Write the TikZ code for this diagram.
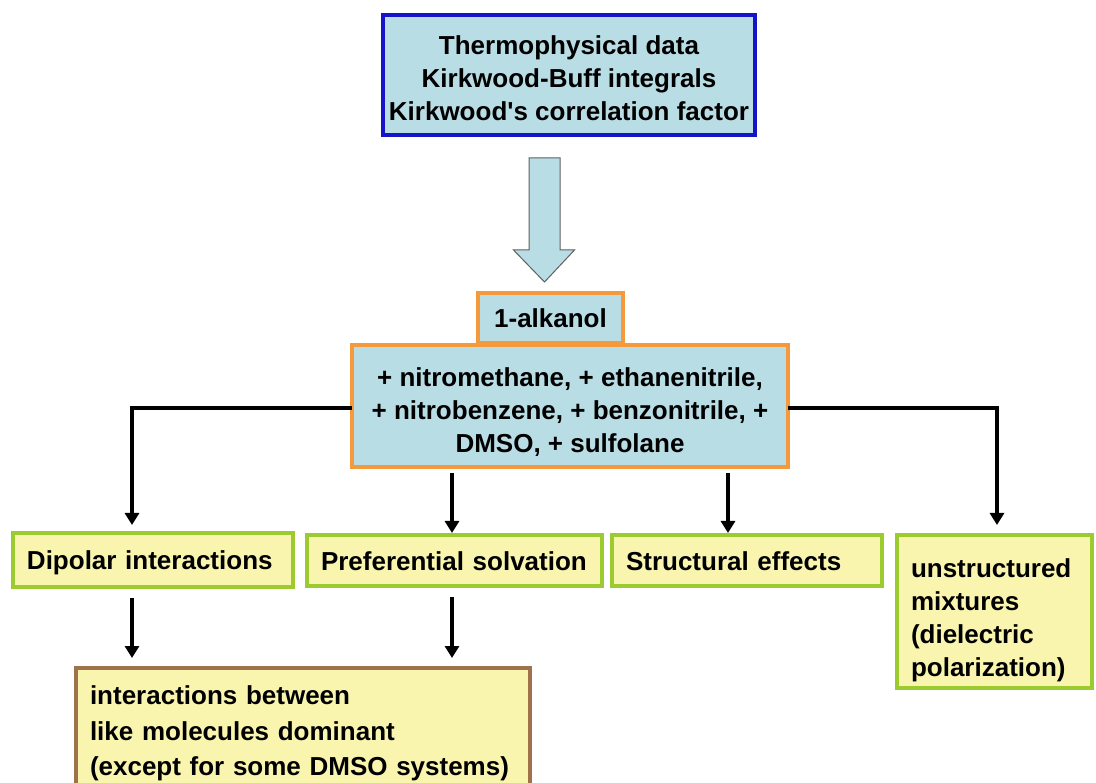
\documentclass[tikz,border=0pt]{standalone}
\usepackage{fontspec}
\setmainfont{Liberation Sans}
\usetikzlibrary{arrows.meta,calc}
\definecolor{boxBlue}{HTML}{B8DDE5}
\definecolor{lineBlue}{HTML}{1515C8}
\definecolor{lineOrange}{HTML}{F59A3C}
\definecolor{boxYellow}{HTML}{F9F5AE}
\definecolor{lineGreen}{HTML}{9BCB2F}
\definecolor{lineBrown}{HTML}{A0724A}
\definecolor{arrowGray}{HTML}{606060}
\newcommand{\toppad}[1]{\rule{0pt}{#1}}
\newcommand{\linepad}{\rule[-5pt]{0pt}{29pt}}
\tikzset{
    every node/.style={font=\fontsize{26}{33}\selectfont\bfseries, outer sep=0pt},
    sourcebox/.style={draw=lineBlue, fill=boxBlue, line width=4pt, align=center},
    mixbox/.style={draw=lineOrange, fill=boxBlue, line width=4.5pt, align=center},
    yellowbox/.style={draw=lineGreen, fill=boxYellow, line width=4.5pt, align=left, inner xsep=14pt},
    resultbox/.style={draw=lineBrown, fill=boxYellow, line width=4pt, align=left, inner xsep=14pt},
    conn/.style={line width=4pt, -{Triangle[width=14pt,length=12pt]}}
}
\begin{document}
\begin{tikzpicture}[x=1pt, y=-1pt]
            \clip (0,0) rectangle (1096,783);
            \fill[white] (0,0) rectangle (1096,783);

            \node[sourcebox, minimum width=372pt, minimum height=120pt] (data) at (569,75)
                {\toppad{25pt}Thermophysical data\\ Kirkwood-Buff integrals\\ Kirkwood\textquotesingle s correlation factor};

            % block arrow
            \coordinate (flowtop) at (544.5,158);
            \draw[draw=arrowGray, fill=boxBlue, line width=1pt]
                ($(flowtop)+(-15.5,0)$) -- ($(flowtop)+(15.5,0)$) -- ($(flowtop)+(15.5,92)$)
                -- ($(flowtop)+(30,92)$) -- ($(flowtop)+(0,124)$) -- ($(flowtop)+(-31,92)$)
                -- ($(flowtop)+(-15.5,92)$) -- cycle;

            \node[mixbox, minimum width=436pt, minimum height=122pt, inner ysep=5pt] (mix) at (570,406)
                {\toppad{31pt}+ nitromethane, + ethanenitrile,\\ + nitrobenzene, + benzonitrile, +\\ DMSO, + sulfolane};
            \node[mixbox, minimum width=145pt, minimum height=50pt] (alkanol) at (550.5,318) {1-alkanol};

            \node[yellowbox, text width=252pt, minimum height=54pt] (dipolar) at (153,560) {\linepad Dipolar interactions};
            \node[yellowbox, text width=267pt, minimum height=51pt] (solv) at (454.5,560.5) {\linepad Preferential solvation};
            \node[yellowbox, text width=242pt, minimum height=51pt] (struct) at (747,560.5) {\linepad Structural effects};
            \node[yellowbox, text width=167pt, minimum height=153pt, inner ysep=0pt] (unstr) at (994.5,611.5)
                {\toppad{37pt}unstructured\\ mixtures\\ (dielectric\\ polarization)};

            \node[resultbox, text width=426pt, inner ysep=18pt, anchor=north,
                  font=\fontsize{26}{35.5}\selectfont\bfseries] (like) at (303,668)
                {interactions between\\ like molecules dominant\\ (except for some DMSO systems)};

            \draw[conn] ($(mix.west)+(0,2)$) -| ($(dipolar.north)+(-21,-8)$);
            \draw[conn] ($(mix.east)+(0,2)$) -| ($(unstr.north)+(2.5,-10)$);
            \draw[conn] ($(mix.south -| solv.north)+(-2.5,6)$) -- ($(solv.north)+(-2.5,-2)$);
            \draw[conn] ($(mix.south -| struct.north)+(-19,6)$) -- ($(struct.north)+(-19,-2)$);
            \draw[conn] ($(dipolar.south)+(-21,11)$) -- ($(dipolar.south |- like.north)+(-21,-10)$);
            \draw[conn] ($(solv.south)+(-2.5,11)$) -- ($(solv.south |- like.north)+(-2.5,-10)$);
\end{tikzpicture}
\end{document}
